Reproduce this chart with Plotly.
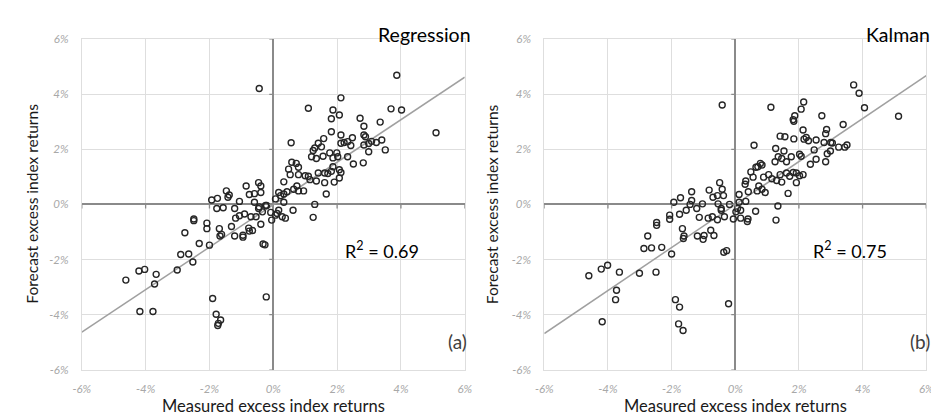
import plotly.graph_objects as go

# ---------------- data (percent) ----------------
reg_x = [-0.44, 3.87, 4.02, 3.69, 5.10, 1.10, 2.12, 1.87, 2.07, 1.82, 2.72, 3.35, 2.84, 1.82, 2.12,
         2.84, 2.89, 2.48, 1.58, 0.56, 1.41, 2.12, 2.22, 2.33, 2.43, 3.08, 3.23, 3.40, 2.84, 2.99,
         1.51, 1.25, 1.30, 3.51, 2.99, 1.77, 1.99, 2.33, 1.20, 1.35, 1.56, 1.87, 2.02, 2.51, 2.82,
         0.58, 0.72, 0.79, 0.48, 1.87, 2.07, 2.12, 1.82, 1.61, 1.41, 1.71, 0.53, 0.79, 1.00, 1.10,
         1.15, 1.35, 1.61, 1.91, 2.07, 0.33, 0.74, 0.64, 0.79, 0.95, 0.43, 0.17, 0.23, 0.33, 0.07,
         0.33, 1.66, 1.30, 1.25, 0.62, 0.38, 0.28, 0.17, 0.12, 0.07, -0.08, -0.05, -0.24, -0.34, -0.46,
         -0.39, -0.46, -0.39, -0.59, -0.75, -0.85, -0.59, -0.44, -0.54, -0.70, -0.90, -0.39, -0.65, -0.77, -0.75,
         -0.95, -0.95, -1.21, -1.31, -1.18, -1.06, -1.21, -1.06, -1.47, -1.38, -1.42, -1.57, -1.77, -1.75, -1.93,
         -1.69, -1.62, -1.67, -2.08, -2.08, -2.00, -2.32, -2.49, -2.49, -2.77, -2.90, -2.65, -2.52, -3.01, -3.67,
         -3.72, -4.03, -4.21, -4.62, -4.18, -3.77, -1.90, -1.79, -1.65, -1.74, -1.72, -0.22, -0.32, -0.26, -0.21]
reg_y = [4.21, 4.69, 3.43, 3.47, 2.60, 3.49, 3.87, 3.43, 3.25, 3.11, 3.13, 2.99, 2.84, 2.64, 2.52,
         2.52, 2.46, 2.42, 2.39, 2.24, 2.22, 2.22, 2.25, 2.28, 2.14, 2.29, 2.25, 2.34, 2.16, 2.21,
         2.09, 1.96, 2.05, 1.98, 1.91, 1.87, 1.87, 1.73, 1.73, 1.67, 1.75, 1.69, 1.73, 1.47, 1.51,
         1.53, 1.49, 1.35, 1.28, 1.37, 1.26, 1.16, 1.20, 1.14, 1.14, 1.12, 1.08, 1.08, 1.04, 1.02,
         0.90, 0.85, 0.79, 0.81, 0.96, 0.82, 0.67, 0.55, 0.49, 0.49, 0.46, 0.43, 0.32, 0.38, 0.20,
         0.08, 0.38, 0.00, -0.47, -0.21, -0.50, -0.45, -0.21, -0.33, -0.39, -0.29, -0.57, -0.04, -0.27, -0.15,
         0.43, 0.79, 0.67, 0.39, 0.36, 0.67, 0.08, -0.09, -0.45, -0.45, -0.35, -0.72, -0.95, -0.86, -0.97,
         -1.12, -1.19, -1.15, -0.80, -0.50, -0.41, -0.15, 0.11, 0.49, 0.34, 0.26, -0.12, -0.15, 0.22, 0.16,
         -0.88, -1.09, -1.15, -0.68, -0.88, -1.48, -1.42, -0.53, -0.59, -1.03, -1.82, -1.80, -2.09, -2.38, -2.54,
         -2.89, -2.36, -2.42, -2.75, -3.89, -3.89, -3.42, -3.99, -4.20, -4.40, -4.32, -3.36, -1.44, -1.47, -0.04]

kal_x = [-0.41, 3.72, 3.89, 4.06, 5.13, 1.12, 2.15, 2.07, 1.87, 1.84, 1.82, 2.72, 3.39, 2.87, 2.84,
         2.13, 1.41, 1.56, 1.84, 2.16, 2.23, 2.30, 2.54, 2.79, 3.00, 3.05, 0.59, 3.25, 3.44, 3.51,
         1.27, 1.53, 2.48, 2.99, 2.89, 1.76, 2.02, 2.07, 1.35, 1.46, 1.61, 1.25, 2.54, 2.84, 2.36,
         0.71, 0.79, 0.65, 0.49, 0.84, 1.82, 1.92, 2.13, 2.02, 1.61, 1.41, 1.71, 1.05, 0.89, 1.15,
         1.30, 1.46, 1.92, 0.56, 0.33, 0.31, 0.74, 0.84, 0.94, 0.69, 0.41, 0.12, 1.66, 1.34, 1.28,
         0.64, 0.38, 0.40, 0.17, 0.17, 0.07, 0.02, 0.33, -0.06, -0.18, -0.34, -0.44, -0.49, -0.41, -0.37,
         -0.56, -0.82, -0.70, -0.54, -0.44, -0.56, -0.72, -0.85, -0.77, -0.67, -0.98, -1.01, -1.19, -1.13, -1.21,
         -1.03, -1.37, -1.37, -1.42, -1.54, -1.72, -1.93, -1.75, -1.66, -1.61, -1.63, -2.06, -2.06, -2.47, -2.47,
         -2.75, -2.87, -2.63, -2.31, -2.00, -2.49, -3.01, -3.64, -3.73, -3.76, -4.01, -4.21, -4.60, -4.18, -1.88,
         -1.75, -1.78, -1.64, -0.21, -0.36, -0.27, 0.12]
kal_y = [3.61, 4.34, 4.04, 3.51, 3.20, 3.53, 3.72, 3.46, 3.22, 3.02, 3.08, 3.22, 2.90, 2.72, 2.57,
         2.70, 2.48, 2.46, 2.38, 2.37, 2.43, 2.31, 2.34, 2.25, 2.25, 2.23, 2.15, 2.08, 2.08, 2.16,
         2.03, 1.94, 1.98, 1.94, 1.84, 1.73, 1.82, 1.75, 1.73, 1.67, 1.55, 1.55, 1.64, 1.55, 1.46,
         1.37, 1.49, 1.35, 1.18, 1.43, 1.16, 1.14, 1.08, 1.04, 1.14, 1.08, 1.02, 1.08, 0.99, 0.93,
         0.87, 0.81, 0.79, 0.99, 0.85, 0.73, 0.67, 0.55, 0.43, 0.49, 0.46, 0.36, 0.40, -0.06, -0.57,
         -0.25, -0.62, -0.53, -0.50, -0.21, -0.15, -0.27, 0.11, -0.53, 0.00, -0.45, -0.21, 0.79, 0.55, 0.32,
         0.32, 0.52, 0.26, 0.02, -0.15, -0.56, -0.45, -0.50, -0.94, -1.13, -1.13, -1.27, -1.15, -0.47, -0.15,
         0.02, 0.46, 0.14, 0.00, -0.21, 0.24, 0.08, -0.36, -0.88, -1.15, -1.24, -0.39, -0.54, -0.66, -0.76,
         -1.15, -1.60, -1.58, -1.56, -1.80, -2.46, -2.50, -2.46, -3.12, -3.46, -2.21, -2.35, -2.59, -4.26, -3.46,
         -3.73, -4.34, -4.58, -3.61, -1.74, -1.68, 0.08]

# fitted trend lines (value at x=-6 and x=6)
trend_x = [-6, 6]
reg_trend_y = [-4.64, 4.62]
kal_trend_y = [-4.69, 4.68]

tick_vals = [-6, -4, -2, 0, 2, 4, 6]
tick_text = ["-6%", "-4%", "-2%", "0%", "2%", "4%", "6%"]

panel_titles = ["Regression", "Kalman"]
r2_labels = ["R<sup>2</sup> = 0.69", "R<sup>2</sup> = 0.75"]
panel_tags = ["(a)", "(b)"]
x_title = "Measured excess index returns"
y_title = "Forecast excess index returns"

# ---------------- styling ----------------
W, H = 939, 417
FONT = "Lato, 'Open Sans', sans-serif"
GRID = "#dedede"
ZERO = "#8a8a8a"
TICKC = "#a8a8a8"

def px_x(p):
    return p / W

def px_y(p):
    return 1 - p / H

dom_x = [[px_x(66), px_x(456)], [px_x(537), px_x(926)]]
dom_y = [px_y(366), px_y(25)]

fig = go.Figure()

series = [(reg_x, reg_y, reg_trend_y), (kal_x, kal_y, kal_trend_y)]
for i, (xs, ys, ty) in enumerate(series):
    xa = "x" if i == 0 else "x2"
    ya = "y" if i == 0 else "y2"
    fig.add_trace(go.Scatter(x=trend_x, y=ty, mode="lines", xaxis=xa, yaxis=ya,
                             line=dict(color="#a0a0a0", width=1.5), hoverinfo="skip",
                             showlegend=False))
    fig.add_trace(go.Scatter(x=xs, y=ys, mode="markers", xaxis=xa, yaxis=ya,
                             marker=dict(symbol="circle-open", size=6,
                                         line=dict(color="#262626", width=1.4),
                                         color="#262626"),
                             showlegend=False))

axis_common = dict(range=[-6, 6], tickvals=tick_vals, ticktext=tick_text,
                   showgrid=True, gridcolor=GRID, gridwidth=1,
                   zeroline=True, zerolinecolor=ZERO, zerolinewidth=1.6,
                   showline=True, linecolor=GRID, linewidth=1, mirror=True,
                   ticks="", fixedrange=True,
                   tickfont=dict(family=FONT, size=11.5, color=TICKC, style="italic"))

fig.update_layout(
    width=W, height=H,
    margin=dict(l=0, r=0, t=0, b=0),
    paper_bgcolor="white", plot_bgcolor="white",
    xaxis=dict(domain=dom_x[0], anchor="y", ticklabelstandoff=9, **axis_common),
    yaxis=dict(domain=dom_y, anchor="x", ticklabelstandoff=10, **axis_common),
    xaxis2=dict(domain=dom_x[1], anchor="y2", ticklabelstandoff=9, **axis_common),
    yaxis2=dict(domain=dom_y, anchor="x2", ticklabelstandoff=10, **axis_common),
)

# small tick marks on the zero axes
shapes = []
for i in range(2):
    xr = "x" if i == 0 else "x2"
    yr = "y" if i == 0 else "y2"
    for v in tick_vals:
        shapes.append(dict(type="line", xref=xr, yref=yr, xsizemode="pixel", xanchor=0,
                           x0=-4, x1=0, y0=v, y1=v, line=dict(color=ZERO, width=1.3)))
        shapes.append(dict(type="line", xref=xr, yref=yr, ysizemode="pixel", yanchor=0,
                           y0=0, y1=-4, x0=v, x1=v, line=dict(color=ZERO, width=1.3)))
fig.update_layout(shapes=shapes)

ann = []
title_x_right = [463, 931]
r2_x = [332, 809]
tag_x_right = [459, 931]
for i in range(2):
    # panel title
    ann.append(dict(text=panel_titles[i], xref="paper", yref="paper",
                    x=px_x(title_x_right[i]), y=px_y(20), xanchor="right", yanchor="middle",
                    borderpad=0, showarrow=False,
                    font=dict(family=FONT, size=19.5, color="#000000")))
    # R squared
    ann.append(dict(text=r2_labels[i], xref="paper", yref="paper",
                    x=px_x(r2_x[i]), y=px_y(243), xanchor="left", yanchor="middle",
                    showarrow=False, font=dict(family=FONT, size=18, color="#000000")))
    # panel tag
    ann.append(dict(text=panel_tags[i], xref="paper", yref="paper",
                    x=px_x(tag_x_right[i]), y=px_y(337), xanchor="right", yanchor="middle",
                    borderpad=0, showarrow=False, font=dict(family=FONT, size=19, color="#404040")))
    # axis titles
    cx = (dom_x[i][0] + dom_x[i][1]) / 2
    ann.append(dict(text=x_title, xref="paper", yref="paper",
                    x=cx, y=px_y(404), xanchor="center", yanchor="middle",
                    showarrow=False, font=dict(family=FONT, size=16.5, color="#1a1a1a")))
    yx = [15, 484][i]
    ann.append(dict(text=y_title, xref="paper", yref="paper",
                    x=px_x(yx), y=px_y(195), xanchor="center", yanchor="middle", textangle=-90,
                    showarrow=False, font=dict(family=FONT, size=15.5, color="#1a1a1a")))
fig.update_layout(annotations=ann)

fig.write_html("out.html")
